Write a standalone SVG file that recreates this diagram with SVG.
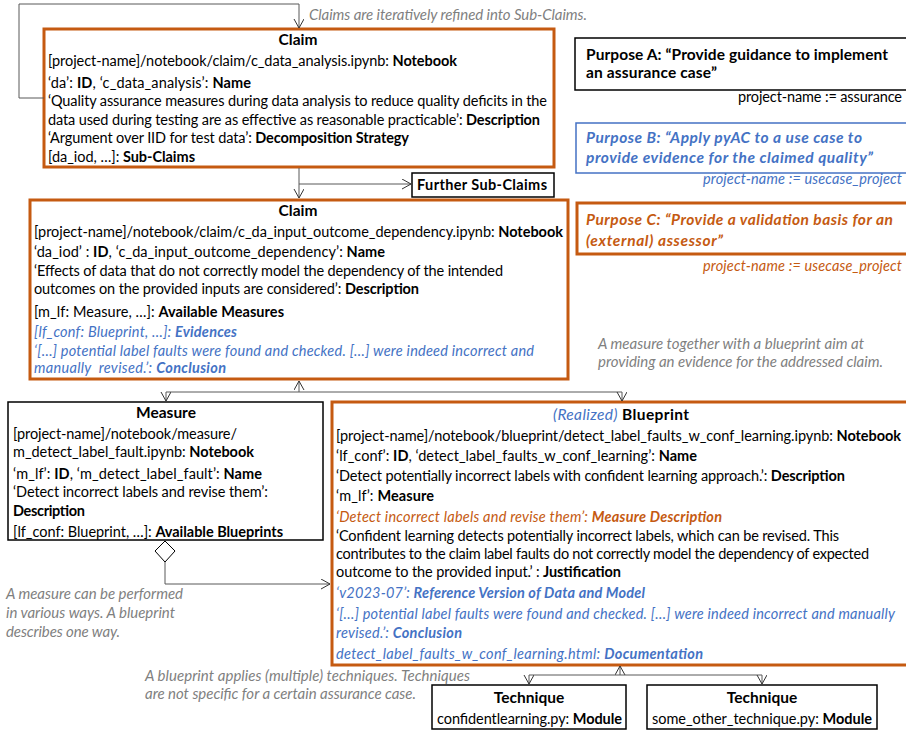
<svg xmlns="http://www.w3.org/2000/svg" width="906" height="730" viewBox="0 0 906 730">
<defs>
<style>
text{font-family:Lato,"Liberation Sans",sans-serif;font-size:14.5px;fill:#000}
.b{font-weight:bold}
.i{font-style:italic}
.blue{fill:#4472C4}
.org{fill:#C55A11}
.note{fill:#7F7F7F;font-style:italic;font-size:15px}
.ttl{font-weight:bold;font-size:15.5px;text-anchor:middle}
.pur{font-weight:bold;font-size:15.5px}
.bo{fill:#fff;stroke:#C55A11;stroke-width:3}
.bk{fill:#fff;stroke:#000;stroke-width:1.5}
.bb{fill:#fff;stroke:#4472C4;stroke-width:1.5}
.conn{fill:none;stroke:#595959;stroke-width:1}
</style>
<marker id="arr" markerUnits="userSpaceOnUse" markerWidth="12" markerHeight="12" refX="9" refY="5" orient="auto">
<path d="M0,0 L9,5 L0,10" fill="none" stroke="#333" stroke-width="1"/>
</marker>
</defs>
<rect width="906" height="730" fill="#fff"/>

<g id="claim1">
<rect class="bo" x="44" y="29" width="510" height="138"/>
<text class="ttl" x="298" y="45">Claim</text>
<text x="48" y="66" textLength="409">[project-name]/notebook/claim/c_data_analysis.ipynb: <tspan class="b">Notebook</tspan></text>
<text x="48" y="88" textLength="203">‘da’: <tspan class="b">ID</tspan>, ‘c_data_analysis’: <tspan class="b">Name</tspan></text>
<text x="48" y="106" textLength="499">‘Quality assurance measures during data analysis to reduce quality deficits in the</text>
<text x="48" y="125" textLength="492">data used during testing are as effective as reasonable practicable’: <tspan class="b">Description</tspan></text>
<text x="48" y="143" textLength="361">‘Argument over IID for test data’: <tspan class="b">Decomposition Strategy</tspan></text>
<text x="48" y="162" textLength="147">[da_iod, …]: <tspan class="b">Sub-Claims</tspan></text>
</g>

<g id="further">
<rect class="bk" x="412" y="173" width="142" height="24"/>
<text class="b" x="417" y="190" textLength="130">Further Sub-Claims</text>
</g>

<g id="claim2">
<rect class="bo" x="30" y="200" width="538" height="179"/>
<text class="ttl" x="298" y="216">Claim</text>
<text x="34" y="237" textLength="529">[project-name]/notebook/claim/c_da_input_outcome_dependency.ipynb: <tspan class="b">Notebook</tspan></text>
<text x="34" y="257" textLength="351">‘da_iod’ : <tspan class="b">ID</tspan>, ‘c_da_input_outcome_dependency’: <tspan class="b">Name</tspan></text>
<text x="34" y="276" textLength="469">‘Effects of data that do not correctly model the dependency of the intended</text>
<text x="34" y="294" textLength="385">outcomes on the provided inputs are considered’: <tspan class="b">Description</tspan></text>
<text x="34" y="317" textLength="250">[m_lf: Measure, …]: <tspan class="b">Available Measures</tspan></text>
<text class="i blue" x="34" y="337" textLength="203">[lf_conf: Blueprint, …]: <tspan class="b">Evidences</tspan></text>
<text class="i blue" x="34" y="356" textLength="500">‘[…] potential label faults were found and checked. […] were indeed incorrect and</text>
<text class="i blue" x="34" y="373" textLength="192">manually&#160; revised.’: <tspan class="b">Conclusion</tspan></text>
</g>

<g id="purposeA">
<rect class="bk" x="575" y="38" width="340" height="52"/>
<text class="pur" x="586" y="60" textLength="302">Purpose A: “Provide guidance to implement</text>
<text class="pur" x="586" y="78" textLength="131">an assurance case”</text>
<text x="902" y="102" text-anchor="end" textLength="164">project-name := assurance</text>
</g>

<g id="purposeB">
<rect class="bb" x="576" y="123" width="340" height="50"/>
<text class="pur i blue" x="586" y="143" textLength="276">Purpose B: “Apply pyAC to a use case to</text>
<text class="pur i blue" x="586" y="163" textLength="287">provide evidence for the claimed quality”</text>
<text class="i blue" x="902" y="184" text-anchor="end" textLength="199">project-name := usecase_project</text>
</g>

<g id="purposeC">
<rect class="bo" x="577" y="203" width="340" height="51"/>
<text class="pur i org" x="586" y="225" textLength="307">Purpose C: “Provide a validation basis for an</text>
<text class="pur i org" x="586" y="246" textLength="137">(external) assessor”</text>
<text class="i org" x="902" y="271" text-anchor="end" textLength="199">project-name := usecase_project</text>
</g>

<g id="measure">
<rect class="bk" x="8" y="402" width="315" height="138"/>
<text class="ttl" x="166" y="418">Measure</text>
<text x="13" y="439" textLength="224">[project-name]/notebook/measure/</text>
<text x="13" y="457" textLength="241">m_detect_label_fault.ipynb: <tspan class="b">Notebook</tspan></text>
<text x="13" y="479" textLength="249">‘m_lf’: <tspan class="b">ID</tspan>, ‘m_detect_label_fault’: <tspan class="b">Name</tspan></text>
<text x="13" y="497" textLength="255">‘Detect incorrect labels and revise them’:</text>
<text class="b" x="13" y="516" textLength="72">Description</text>
<text x="13" y="537" textLength="270">[lf_conf: Blueprint, …]: <tspan class="b">Available Blueprints</tspan></text>
</g>

<g id="blueprint">
<rect class="bo" x="332" y="402" width="590" height="263"/>
<text x="553" y="420" textLength="136" style="font-size:15.5px"><tspan class="i blue">(Realized)</tspan> <tspan class="b">Blueprint</tspan></text>
<text x="336" y="441" textLength="565">[project-name]/notebook/blueprint/detect_label_faults_w_conf_learning.ipynb: <tspan class="b">Notebook</tspan></text>
<text x="336" y="461" textLength="361">‘lf_conf’: <tspan class="b">ID</tspan>, ‘detect_label_faults_w_conf_learning’: <tspan class="b">Name</tspan></text>
<text x="336" y="481" textLength="509">‘Detect potentially incorrect labels with confident learning approach.’: <tspan class="b">Description</tspan></text>
<text x="336" y="501" textLength="98">‘m_lf’: <tspan class="b">Measure</tspan></text>
<text class="i org" x="336" y="522" textLength="386">‘Detect incorrect labels and revise them’: <tspan class="b">Measure Description</tspan></text>
<text x="336" y="541" textLength="503">‘Confident learning detects potentially incorrect labels, which can be revised. This</text>
<text x="336" y="559" textLength="533">contributes to the claim label faults do not correctly model the dependency of expected</text>
<text x="336" y="577" textLength="285">outcome to the provided input.’ : <tspan class="b">Justification</tspan></text>
<text class="i blue" x="336" y="598" textLength="309">‘v2023-07’: <tspan class="b">Reference Version of Data and Model</tspan></text>
<text class="i blue" x="336" y="619" textLength="559">‘[…] potential label faults were found and checked. […] were indeed incorrect and manually</text>
<text class="i blue" x="336" y="638" textLength="126">revised.’: <tspan class="b">Conclusion</tspan></text>
<text class="i blue" x="336" y="659" textLength="367">detect_label_faults_w_conf_learning.html: <tspan class="b">Documentation</tspan></text>
</g>

<g id="technique1">
<rect class="bk" x="432" y="685" width="194" height="44"/>
<text class="ttl" x="529" y="703">Technique</text>
<text x="437" y="724" textLength="185">confidentlearning.py: <tspan class="b">Module</tspan></text>
</g>

<g id="technique2">
<rect class="bk" x="647" y="685" width="230" height="44"/>
<text class="ttl" x="762" y="703">Technique</text>
<text x="652" y="724" textLength="220">some_other_technique.py: <tspan class="b">Module</tspan></text>
</g>

<g id="notes">
<text class="note" x="309" y="20" textLength="278">Claims are iteratively refined into Sub-Claims.</text>
<text class="note" x="598" y="349" textLength="266">A measure together with a blueprint aim at</text>
<text class="note" x="598" y="367" textLength="285">providing an evidence for the addressed claim.</text>
<text class="note" x="6" y="599" textLength="177">A measure can be performed</text>
<text class="note" x="6" y="618" textLength="169">in various ways. A blueprint</text>
<text class="note" x="6" y="637" textLength="114">describes one way.</text>
<text class="note" x="145" y="681" textLength="325">A blueprint applies (multiple) techniques. Techniques</text>
<text class="note" x="145" y="699" textLength="271">are not specific for a certain assurance case.</text>
</g>

<g id="connectors">
<path class="conn" d="M44,98 H19 V4 H299 V28" marker-end="url(#arr)"/>
<path class="conn" d="M299,168 V198" marker-end="url(#arr)"/>
<path class="conn" d="M299,184 H411" marker-end="url(#arr)"/>
<path class="conn" d="M299,392 V381" marker-end="url(#arr)"/>
<path class="conn" d="M166,392 H622"/>
<path class="conn" d="M166,392 V401" marker-end="url(#arr)"/>
<path class="conn" d="M622,392 V401" marker-end="url(#arr)"/>
<polygon points="165,541 175,551 165,562 155,551" fill="#fff" stroke="#000" stroke-width="1"/>
<path class="conn" d="M165,562 V584 H330" marker-end="url(#arr)"/>
<path class="conn" d="M620,675 V666" marker-end="url(#arr)"/>
<path class="conn" d="M529,675 H762"/>
<path class="conn" d="M529,675 V684" marker-end="url(#arr)"/>
<path class="conn" d="M762,675 V684" marker-end="url(#arr)"/>
</g>
</svg>
